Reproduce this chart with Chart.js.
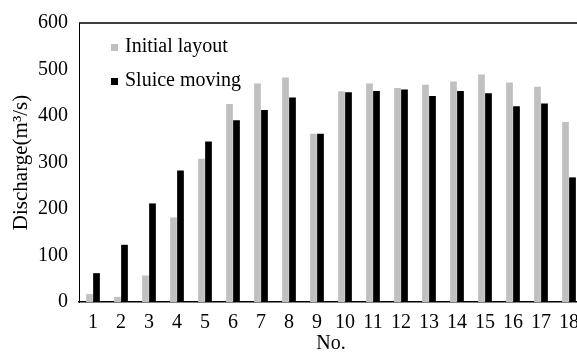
<!DOCTYPE html>
<html>
<head>
<meta charset="utf-8">
<script src="https://cdn.jsdelivr.net/npm/chart.js@4"></script>
<style>
  html, body { margin: 0; padding: 0; background: #fff; overflow: hidden; }
  #wrap { position: relative; width: 600px; height: 353px; }
</style>
</head>
<body>
<div id="wrap"><canvas id="discharge-chart"></canvas></div>
<script>
// Gate numbers and discharge for both layouts
const gateNos = ['1', '2', '3', '4', '5', '6', '7', '8', '9', '10', '11', '12', '13', '14', '15', '16', '17', '18'];
const initialLayout = [17, 11, 57, 182, 308, 426, 470, 483, 362, 453, 470, 460, 467, 474, 489, 472, 463, 387];
const sluiceMoving = [62, 123, 212, 283, 345, 391, 413, 440, 362, 451, 454, 457, 443, 454, 449, 421, 427, 268];
const yTicks = [0, 100, 200, 300, 400, 500, 600];

const serif = "'Liberation Serif', 'Times New Roman', serif";

// Legend sits inside the plot, stacked at the upper left
const innerLegend = {
    id: 'innerLegend',
    afterDraw(chart) {
        const ctx = chart.ctx;
        const area = chart.chartArea;
        ctx.save();
        ctx.font = '20px ' + serif;
        ctx.textBaseline = 'middle';
        chart.data.datasets.forEach((ds, i) => {
            const y = area.top + 24 + i * 34;
            const x = area.left + 32;
            ctx.fillStyle = ds.backgroundColor;
            ctx.fillRect(x, y - 3, 7, 7);
            ctx.fillStyle = '#000';
            ctx.fillText(ds.label, x + 14, y);
        });
        ctx.restore();
    }
};

// Top frame line of the plot box
const topFrame = {
    id: 'topFrame',
    afterDraw(chart) {
        const ctx = chart.ctx;
        const area = chart.chartArea;
        ctx.save();
        ctx.strokeStyle = '#000';
        ctx.lineWidth = 1.5;
        ctx.beginPath();
        ctx.moveTo(area.left, area.top);
        ctx.lineTo(area.right + 20, area.top);
        ctx.stroke();
        ctx.restore();
    }
};

new Chart(document.getElementById('discharge-chart'), {
    type: 'bar',
    data: {
        labels: gateNos,
        datasets: [
            {
                label: 'Initial layout',
                data: initialLayout,
                backgroundColor: '#c0c0c0',
                borderWidth: 0,
            },
            {
                label: 'Sluice moving',
                data: sluiceMoving,
                backgroundColor: '#000000',
                borderWidth: 0,
            }
        ]
    },
    options: {
        responsive: true,
        maintainAspectRatio: false,
        animation: false,
        layout: { padding: { top: 19, right: 17, left: 0, bottom: 0 } },
        datasets: {
            bar: { categoryPercentage: 0.5, barPercentage: 0.96 }
        },
        plugins: {
            legend: { display: false },
            tooltip: { enabled: false }
        },
        scales: {
            x: {
                grid: { display: false, drawTicks: false },
                border: { display: true, color: '#000', width: 1.5 },
                ticks: {
                    padding: 9,
                    color: '#000',
                    maxRotation: 0,
                    autoSkip: false,
                    font: { size: 20, family: serif }
                },
                title: {
                    display: true,
                    text: 'No.',
                    color: '#000',
                    padding: { top: 0, bottom: -3 },
                    font: { size: 20, family: serif }
                },
                afterFit(scale) { scale.height = 51; }
            },
            y: {
                min: 0,
                max: 600,
                afterBuildTicks(scale) {
                    scale.ticks = yTicks.map(v => ({ value: v }));
                },
                grid: { display: false, drawTicks: false },
                border: { display: true, color: '#000', width: 1 },
                ticks: {
                    padding: 11,
                    color: '#000',
                    font: { size: 20, family: serif }
                },
                title: {
                    display: true,
                    text: 'Discharge(m³/s)',
                    color: '#000',
                    padding: { top: 9, bottom: 0 },
                    font: { size: 21, family: serif }
                },
                afterFit(scale) { scale.width = 79; }
            }
        }
    },
    plugins: [innerLegend, topFrame]
});
</script>
</body>
</html>
